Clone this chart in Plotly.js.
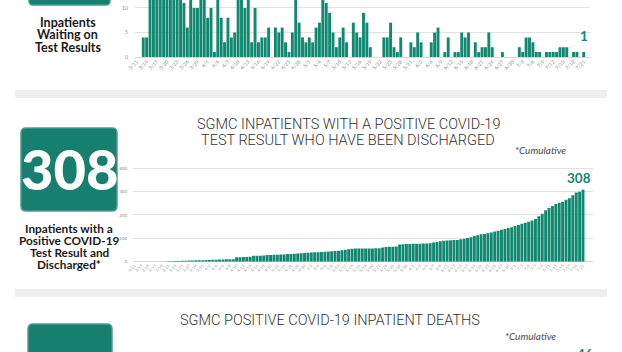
<!DOCTYPE html>
<html>
<head>
<meta charset="utf-8">
<script src="https://cdn.plot.ly/plotly-3.0.1.min.js"></script>
<style>
html,body{margin:0;padding:0;background:#fff;}
#chart{width:622px;height:352px;}
</style>
</head>
<body>
<div id="chart"></div>
<script>
// ---- data ----
const startMonth = 3, startDay = 11, dayCount = 133;   // 3/11 .. 7/21
const dates = [];
(function(){
  const d = new Date(2020, startMonth - 1, startDay);
  for (let i = 0; i < dayCount; i++) {
    dates.push((d.getMonth() + 1) + '/' + d.getDate());
    d.setDate(d.getDate() + 1);
  }
})();

// Inpatients waiting on test results (daily)
const waitingValues = [
  0,0,4,4,14,17,19,16,21,18,15,20,17,13,11,6,14,10,10,15,
  13,8,10,1,12,8,3,8,4,5,13,14,10,12,3,10,3,4,4,6,
  0,6,5,6,3,1,5,13,7,4,3,4,3,6,7,13,11,9,5,2,
  4,6,3,0,7,5,4,9,7,2,0,0,0,4,4,7,2,1,4,0,
  0,3,2,5,3,0,0,3,5,6,0,1,4,0,1,1,5,4,5,0,
  3,1,2,2,5,2,0,0,1,0,0,0,0,2,1,4,4,3,1,1,
  0,1,1,1,1,2,2,2,0,1,1,0,1
];

// Inpatients with positive result discharged (cumulative)
const dischargedValues = [
  0,0,0,0,0,0,0,0,0,0,2,2,3,3,4,4,5,5,6,6,
  6,7,7,8,8,9,9,10,11,11,19,19,20,20,21,25,26,26,27,29,
  29,30,30,31,31,33,33,34,35,36,37,38,39,40,40,42,43,44,45,46,
  47,49,51,53,55,56,56,57,57,57,57,58,58,61,63,64,64,65,74,75,
  76,76,77,77,77,78,78,79,82,84,88,90,91,92,93,93,96,98,102,105,
  110,113,117,119,122,125,129,133,137,140,144,148,153,157,163,167,171,176,183,195,
  205,220,230,238,247,252,257,265,272,285,296,300,308
];

const waitingTicks = dates.filter((d, i) => i % 3 === 0);
const dischargedTicks = dates.filter((d, i) => i % 2 === 0);
const waitingYTicks = [0, 5, 10];
const dischargedYTicks = [0, 100, 200, 300, 400];

const titleMid = ['SGMC INPATIENTS WITH A POSITIVE COVID-19', 'TEST RESULT WHO HAVE BEEN DISCHARGED'];
const titleBottom = 'SGMC POSITIVE COVID-19 INPATIENT DEATHS';
const leftTop = ['Inpatients', 'Waiting on', 'Test Results'];
const leftMid = ['Inpatients with a', 'Positive COVID-19', 'Test Result and', 'Discharged*'];
const midBig = '308';
const bottomBig = '46';

// ---- styling ----
const W = 622, H = 352;
const teal = '#118870';
const boxTeal = '#167f6d';
const boxLine = '#4c9d8d';
const px = v => v / W;
const py = v => 1 - v / H;

const traces = [
  {type:'bar', x:dates, y:waitingValues, xaxis:'x', yaxis:'y',
   marker:{color:teal}, hoverinfo:'skip'},
  {type:'bar', x:dates, y:dischargedValues, xaxis:'x2', yaxis:'y2',
   marker:{color:teal}, hoverinfo:'skip'}
];

const tickFont = {family:'Lato', size:5, color:'#8a8a8a'};

function roundRectPath(x0, y0, x1, y1, r) {
  const X = v => px(v), Y = v => py(v);
  return `M ${X(x0+r)},${Y(y0)} L ${X(x1-r)},${Y(y0)} Q ${X(x1)},${Y(y0)} ${X(x1)},${Y(y0+r)} ` +
         `L ${X(x1)},${Y(y1-r)} Q ${X(x1)},${Y(y1)} ${X(x1-r)},${Y(y1)} L ${X(x0+r)},${Y(y1)} ` +
         `Q ${X(x0)},${Y(y1)} ${X(x0)},${Y(y1-r)} L ${X(x0)},${Y(y0+r)} Q ${X(x0)},${Y(y0)} ${X(x0+r)},${Y(y0)} Z`;
}

const shapes = [
  {type:'rect', xref:'paper', yref:'paper', x0:px(15), x1:px(607), y0:py(98), y1:py(90),
   fillcolor:'#eeeff1', line:{width:0}, layer:'below'},
  {type:'rect', xref:'paper', yref:'paper', x0:px(15), x1:px(607), y0:py(297), y1:py(289),
   fillcolor:'#eeeff1', line:{width:0}, layer:'below'},
  {type:'path', xref:'paper', yref:'paper', path:roundRectPath(29, -20, 110, 5, 4),
   fillcolor:boxTeal, line:{color:boxLine, width:1.5}},
  {type:'path', xref:'paper', yref:'paper', path:roundRectPath(21, 128, 117, 211, 5),
   fillcolor:boxTeal, line:{color:boxLine, width:1.5}},
  {type:'path', xref:'paper', yref:'paper', path:roundRectPath(28, 324, 112, 380, 5),
   fillcolor:boxTeal, line:{color:boxLine, width:1.5}}
];

const ann = [];
function addText(text, x, y, font, opts) {
  ann.push(Object.assign({xref:'paper', yref:'paper', x:px(x), y:py(y), text:text,
    showarrow:false, xanchor:'center', yanchor:'middle', font:font}, opts || {}));
}
const boldTop = {family:'Lato', size:12.5, color:'#1a1a1a', weight:700};
const boldMid = {family:'Lato', size:11.8, color:'#1a1a1a', weight:700};
leftTop.forEach((t, i) => addText(t, 67.5, 22 + i * 12.5, boldTop));
leftMid.forEach((t, i) => addText(t, 69, 228.5 + i * 12.1, boldMid));
const titleFont = {family:'Roboto', size:14.5, color:'#333333', weight:300};
titleMid.forEach((t, i) => addText(t, 348, 124.5 + i * 16, titleFont));
addText(titleBottom, 330, 320.5, titleFont);
const cumFont = {family:'Lato', size:10, color:'#4a4a4a', style:'italic'};
addText('*Cumulative', 540, 149.5, cumFont);
addText('*Cumulative', 530, 336, cumFont);
const bigFont = {family:'Lato', size:56, color:'#ffffff', weight:900};
addText(midBig, 69, 168, bigFont);
addText(bottomBig, 70, 338, bigFont, {yanchor:'top'});
addText(bottomBig, 585, 344, {family:'Lato', size:13.5, color:teal, weight:700}, {yanchor:'top'});

ann.push({xref:'x', yref:'y', x:dates[dates.length-1], y:waitingValues[waitingValues.length-1],
  text:String(waitingValues[waitingValues.length-1]), showarrow:false, yanchor:'bottom', yshift:6,
  font:{family:'Lato', size:13.5, color:teal, weight:700}});
ann.push({xref:'x2', yref:'y2', x:dates[dates.length-1], y:dischargedValues[dischargedValues.length-1],
  text:String(dischargedValues[dischargedValues.length-1]), showarrow:false, yanchor:'bottom', yshift:2, xshift:-4,
  font:{family:'Lato', size:13.5, color:teal, weight:700}});

const layout = {
  width:W, height:H, margin:{l:0, r:0, t:0, b:0},
  paper_bgcolor:'#ffffff', plot_bgcolor:'rgba(0,0,0,0)',
  showlegend:false, bargap:0.14,
  xaxis:{domain:[px(134.8), px(589.7)], anchor:'y', type:'category',
    tickmode:'array', tickvals:waitingTicks, ticktext:waitingTicks, tickangle:-45,
    tickfont:tickFont, showgrid:false, showline:false, ticks:'', fixedrange:true},
  yaxis:{domain:[py(57), 1], anchor:'x', range:[0, 11.63], tickmode:'array', tickvals:waitingYTicks,
    tickfont:tickFont, gridcolor:'#e1e1e1', gridwidth:1, zeroline:true, zerolinecolor:'#d6d6d6',
    zerolinewidth:1, showline:false, ticklabelstandoff:6, fixedrange:true},
  xaxis2:{domain:[px(133), px(593)], anchor:'y2', type:'category',
    tickmode:'array', tickvals:dischargedTicks, ticktext:dischargedTicks, tickangle:-45,
    tickfont:{family:'Lato', size:4, color:'#9a9a9a'}, showgrid:false, showline:false, ticks:'', fixedrange:true},
  yaxis2:{domain:[py(261.7), py(163.6)], anchor:'x2', range:[0, 420], tickmode:'array', tickvals:dischargedYTicks,
    tickfont:{family:'Lato', size:4.5, color:'#8a8a8a'}, gridcolor:'#e1e1e1', gridwidth:1, zeroline:true,
    zerolinecolor:'#d6d6d6', zerolinewidth:1, showline:false, ticklabelstandoff:5, fixedrange:true},
  shapes:shapes,
  annotations:ann
};

Plotly.newPlot('chart', traces, layout, {staticPlot:true, displayModeBar:false});
</script>
</body>
</html>
